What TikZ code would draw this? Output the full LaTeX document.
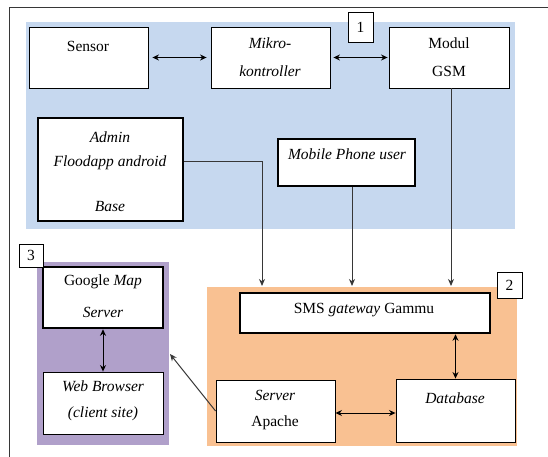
\documentclass[tikz,border=0pt]{standalone}
\usepackage{fontspec}
\setmainfont{Liberation Serif}
\usetikzlibrary{arrows.meta,calc}
\definecolor{zoneblue}{RGB}{198,216,239}
\definecolor{zoneorange}{RGB}{249,193,146}
\definecolor{zonepurple}{RGB}{176,160,202}
\definecolor{linegray}{RGB}{55,55,55}
\begin{document}
\begin{tikzpicture}[x=1pt,y=-1pt,
  box/.style={draw=black,fill=white,line width=0.9pt,inner sep=0pt,minimum width=#1},
  thickbox/.style={draw=black,fill=white,line width=2.6pt,inner sep=0pt,minimum width=#1},
  numbox/.style={draw=black,fill=white,line width=0.7pt,inner sep=0pt},
  txt/.style={inner sep=0pt,font=\fontsize{15.5}{18}\selectfont},
  itxt/.style={txt,font=\fontsize{15.5}{18}\selectfont\itshape},
  dbl/.style={{Stealth[length=6.5pt,width=6pt]}-{Stealth[length=6.5pt,width=6pt]},line width=1pt,black},
  conn/.style={-{Stealth[length=7pt,width=6pt]},line width=1pt,linegray}
]
\useasboundingbox (0,0) rectangle (548,457);
% outer frame (left and top edges)
\draw[linegray,line width=0.9pt] (9.5,457) -- (9.5,7.5) -- (548,7.5);
% zones
\fill[zoneblue] (26,22) rectangle (515,229);
\fill[zoneorange] (207,287) rectangle (517,446);
\fill[zonepurple] (37,262) rectangle (169,445);
% boxes
\node[box=119pt,minimum height=61pt] (sensor) at (88.5,57.5) {};
\node[box=119pt,minimum height=61pt] (mikro) at (270.5,57.5) {};
\node[box=120pt,minimum height=61pt] (gsm) at (449,57.5) {};
\node[thickbox=145pt,minimum height=103pt] (admin) at (110.5,169.5) {};
\node[thickbox=137pt,minimum height=47pt] (mob) at (346.5,162.5) {};
\node[thickbox=120pt,minimum height=61pt] (gmap) at (103,297.5) {};
\node[box=120pt,minimum height=62pt] (web) at (103,403) {};
\node[thickbox=250pt,minimum height=40pt] (sms) at (365,313) {};
\node[box=119pt,minimum height=62pt] (srv) at (275.5,411) {};
\node[box=119pt,minimum height=63pt] (db) at (455.5,410.5) {};
\node[numbox,minimum width=25pt,minimum height=30pt,txt] (n1) at (360.5,27) {1};
\node[numbox,minimum width=25pt,minimum height=26pt,txt] (n2) at (509.5,285) {2};
\node[numbox,minimum width=24pt,minimum height=23pt,txt] (n3) at (31,255.5) {3};
% texts
\node[txt] (sensorT) at (88,46) {Sensor};
\node[itxt] (mikroT1) at (270,43) {Mikro-};
\node[itxt] (mikroT2) at (270,71) {kontroller};
\node[txt] (gsmT1) at (449,43) {Modul};
\node[txt] (gsmT2) at (449,71) {GSM};
\node[itxt] (adminT1) at (110,137) {Admin};
\node[itxt] (adminT2) at (110,163) {Floodapp android};
\node[itxt] (adminT3) at (110,207) {Base};
\node[itxt] (mobT) at (347,154) {Mobile Phone user};
\node[txt] (gmapT1) at (103,282) {Google \textit{Map}};
\node[itxt] (gmapT2) at (103,312) {Server};
\node[itxt] (webT1) at (103,386) {Web Browser};
\node[itxt] (webT2) at (103,414) {(client site)};
\node[txt] (smsT) at (364,310) {SMS \textit{gateway} Gammu};
\node[itxt] (srvT1) at (275,395) {Server};
\node[txt] (srvT2) at (275,423) {Apache};
\node[itxt] (dbT) at (455,398) {Database};
% connectors
\draw[dbl,shorten <=4pt,shorten >=4pt] (sensor.east) -- (mikro.west);
\draw[dbl,shorten <=3pt,shorten >=1pt] (mikro.east) -- (gsm.west);
\draw[dbl] (gmap.south) -- (web.north);
\draw[dbl] (db.north |- sms.south) -- (db.north);
\draw[dbl] ([yshift=-2pt]srv.east) -- ([yshift=-2pt]srv.east -| db.west);
\coordinate (admEnd) at (262,286);
\coordinate (mobEnd) at (352,286);
\coordinate (gsmEnd) at (451,286);
\coordinate (purpleEnd) at (170,354);
\draw[conn] ([yshift=8pt]admin.east) -| (admEnd);
\draw[conn] (mob.south -| mobEnd) -- (mobEnd);
\draw[conn] (gsm.south -| gsmEnd) -- (gsmEnd);
\draw[conn] (srv.west) -- (purpleEnd);
\end{tikzpicture}
\end{document}
